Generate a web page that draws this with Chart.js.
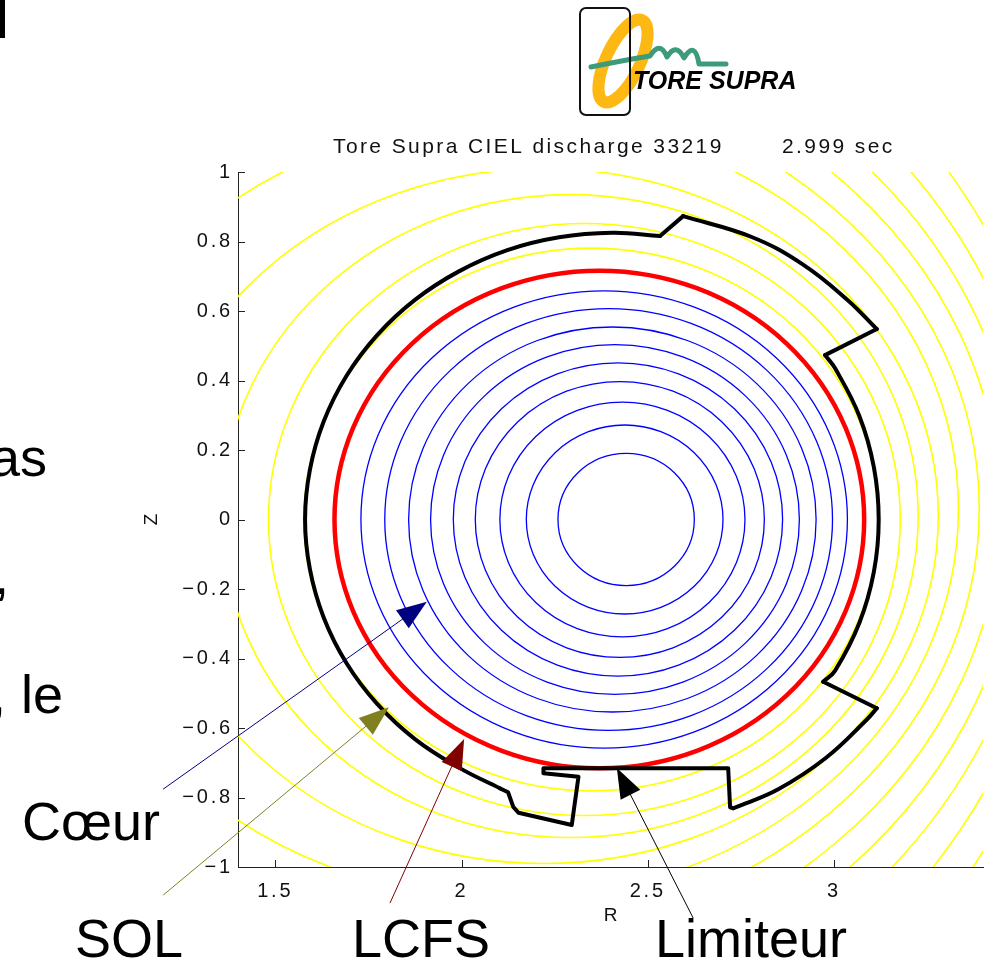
<!DOCTYPE html>
<html>
<head>
<meta charset="utf-8">
<script src="https://cdn.jsdelivr.net/npm/chart.js@4.4.0/dist/chart.umd.min.js"></script>
<style>
  html, body { margin: 0; padding: 0; background: #fff; }
  #plot { display: block; }
</style>
</head>
<body>
<canvas id="plot" width="993" height="960"></canvas>
<script>
// tick values
const rTicks = [1.5, 2, 2.5, 3];
const zTicks = [-1, -0.8, -0.6, -0.4, -0.2, 0, 0.2, 0.4, 0.6, 0.8, 1];

// first wall / limiter outline (R, Z in m)
const wallR = [2.595, 2.533, 2.405, 2.262, 2.123, 1.993, 1.875, 1.773, 1.691, 1.630, 1.593, 1.580,
  1.593, 1.630, 1.691, 1.773, 1.875, 1.993, 2.104, 2.125, 2.139, 2.153, 2.296, 2.314, 2.220, 2.220,
  2.716, 2.721, 2.730, 2.849, 2.977, 3.087, 3.115, 2.971, 3.003, 3.068, 3.107, 3.120, 3.107, 3.068,
  3.003, 2.976, 3.115, 3.034, 2.915, 2.779, 2.595];
const wallZ = [0.873, 0.816, 0.825, 0.812, 0.775, 0.714, 0.632, 0.530, 0.413, 0.282, 0.143, 0.000,
  -0.143, -0.282, -0.413, -0.530, -0.632, -0.714, -0.774, -0.785, -0.827, -0.844, -0.879, -0.740, -0.730, -0.716,
  -0.716, -0.828, -0.831, -0.777, -0.687, -0.577, -0.543, -0.467, -0.435, -0.298, -0.151, 0.000, 0.151, 0.298,
  0.435, 0.473, 0.548, 0.634, 0.735, 0.813, 0.873];
// index ranges of the wall that are curved (the rest are straight pieces)
const wallArcs = [[1, 18], [28, 32], [33, 41], [42, 46]];

// closed flux surfaces (blue): centre R, half width, half height
const coreR0 = [2.442, 2.438, 2.432, 2.425, 2.420, 2.412, 2.405, 2.395, 2.383];
const coreA  = [0.183, 0.264, 0.329, 0.388, 0.442, 0.495, 0.547, 0.601, 0.653];
const coreB  = [0.190, 0.272, 0.338, 0.397, 0.451, 0.503, 0.554, 0.607, 0.658];

// last closed flux surface (red)
const lcfsR0 = [2.370];
const lcfsA  = [0.711];
const lcfsB  = [0.716];

// open flux surfaces in the SOL (yellow)
const solR0 = [2.349, 2.330, 2.291, 2.221, 2.128, 2.018, 1.934, 1.839, 1.714, 1.534, 1.276];
const solZ0 = [0, 0, 0.01, 0.01, 0.03, 0.03, 0.03, 0.03, 0.03, 0.03, 0.03];
const solA  = [0.772, 0.848, 0.935, 1.059, 1.206, 1.372, 1.512, 1.661, 1.841, 2.076, 2.389];
const solB  = [0.781, 0.852, 0.925, 1.000, 1.123, 1.238, 1.360, 1.495, 1.657, 1.868, 2.150];

// annotation arrows (tail -> tip, in R/Z)
const noteText  = ['Cœur', 'SOL', 'LCFS', 'Limiteur'];
const noteColor = ['#000080', '#808020', '#800000', '#000000'];
const noteTailR = [1.199, 1.199, 1.808, 2.622];
const noteTailZ = [-0.776, -1.081, -1.104, -1.147];
const noteTipR  = [1.907, 1.805, 2.007, 2.417];
const noteTipZ  = [-0.237, -0.540, -0.632, -0.715];
const noteTextX = [22, 75, 352, 655];
const noteTextY = [840, 957, 957, 957];

const fmt = v => String(v).replace('-', '\u2212');

// split the wall into straight and curved pieces
const wallDatasets = [];
let last = 0;
wallArcs.forEach(([a, b]) => {
  if (a > last) wallDatasets.push({from: last, to: a, tension: 0});
  wallDatasets.push({from: a, to: b, tension: 0.4});
  last = b;
});
if (last < wallR.length - 1) wallDatasets.push({from: last, to: wallR.length - 1, tension: 0});

const datasets = wallDatasets.map(p => ({
  data: wallR.slice(p.from, p.to + 1).map((r, i) => ({x: r, y: wallZ[p.from + i]})),
  showLine: true,
  borderColor: '#000',
  borderWidth: 4,
  borderJoinStyle: 'round',
  borderCapStyle: 'round',
  pointRadius: 0,
  fill: false,
  tension: p.tension
}));

function ellipse(ctx, xs, ys, r0, z0, a, b) {
  const cx = xs.getPixelForValue(r0), cy = ys.getPixelForValue(z0);
  const rx = xs.getPixelForValue(r0 + a) - cx;
  const ry = cy - ys.getPixelForValue(z0 + b);
  ctx.beginPath();
  ctx.ellipse(cx, cy, rx, ry, 0, 0, Math.PI * 2);
  ctx.stroke();
}

function arrow(ctx, x1, y1, x2, y2, color) {
  const ang = Math.atan2(y2 - y1, x2 - x1);
  const len = 30, half = 11;
  ctx.strokeStyle = color;
  ctx.fillStyle = color;
  ctx.lineWidth = 1;
  ctx.beginPath();
  ctx.moveTo(x1, y1);
  ctx.lineTo(x2 - Math.cos(ang) * len * 0.8, y2 - Math.sin(ang) * len * 0.8);
  ctx.stroke();
  const bx = x2 - Math.cos(ang) * len, by = y2 - Math.sin(ang) * len;
  ctx.beginPath();
  ctx.moveTo(x2, y2);
  ctx.lineTo(bx - Math.sin(ang) * half, by + Math.cos(ang) * half);
  ctx.lineTo(bx + Math.sin(ang) * half, by - Math.cos(ang) * half);
  ctx.closePath();
  ctx.fill();
}

const fluxPlugin = {
  id: 'flux',
  beforeDraw(chart) {
    chart.ctx.letterSpacing = '2.8px';
  },
  beforeDatasetsDraw(chart) {
    const {ctx, chartArea: ca, scales: {x, y}} = chart;
    ctx.save();
    ctx.beginPath();
    ctx.rect(ca.left, ca.top, ca.right - ca.left, ca.bottom - ca.top);
    ctx.clip();
    ctx.strokeStyle = '#ffff00';
    ctx.lineWidth = 1.6;
    for (let i = 0; i < solR0.length; i++) ellipse(ctx, x, y, solR0[i], solZ0[i], solA[i], solB[i]);
    ctx.strokeStyle = '#0000ff';
    ctx.lineWidth = 1.3;
    for (let i = 0; i < coreR0.length; i++) ellipse(ctx, x, y, coreR0[i], 0, coreA[i], coreB[i]);
    ctx.strokeStyle = '#ff0000';
    ctx.lineWidth = 4.5;
    ellipse(ctx, x, y, lcfsR0[0], 0, lcfsA[0], lcfsB[0]);
    ctx.restore();
  }
};

const decorPlugin = {
  id: 'decor',
  afterDraw(chart) {
    const {ctx, chartArea: ca, scales: {x, y}} = chart;
    ctx.save();
    // inward tick marks
    ctx.strokeStyle = '#222';
    ctx.lineWidth = 1;
    ctx.beginPath();
    rTicks.forEach(v => { const p = Math.round(x.getPixelForValue(v)) + 0.5; ctx.moveTo(p, ca.bottom); ctx.lineTo(p, ca.bottom - 7); });
    zTicks.forEach(v => { const p = Math.round(y.getPixelForValue(v)) + 0.5; ctx.moveTo(ca.left, p); ctx.lineTo(ca.left + 7, p); });
    ctx.stroke();

    // axis titles and plot title
    ctx.fillStyle = '#111';
    ctx.letterSpacing = '0px';
    ctx.font = '19px "Liberation Sans"';
    ctx.textAlign = 'center';
    ctx.textBaseline = 'middle';
    ctx.fillText('R', (ca.left + ca.right) / 2, 916);
    ctx.save();
    ctx.translate(152, (ca.top + ca.bottom) / 2);
    ctx.rotate(-Math.PI / 2);
    ctx.fillText('Z', 0, 0);
    ctx.restore();
    ctx.textAlign = 'left';
    ctx.textBaseline = 'alphabetic';
    ctx.font = '21px "Liberation Sans"';
    ctx.letterSpacing = '2.4px';
    ctx.fillText('Tore Supra CIEL discharge 33219', 333, 153);
    ctx.fillText('2.999 sec', 782, 153);

    // arrows with labels
    for (let i = 0; i < noteText.length; i++) {
      arrow(ctx, x.getPixelForValue(noteTailR[i]), y.getPixelForValue(noteTailZ[i]),
        x.getPixelForValue(noteTipR[i]), y.getPixelForValue(noteTipZ[i]), noteColor[i]);
    }
    ctx.fillStyle = '#000';
    ctx.letterSpacing = '0px';
    ctx.font = '54px "Liberation Sans"';
    for (let i = 0; i < noteText.length; i++) ctx.fillText(noteText[i], noteTextX[i], noteTextY[i]);

    // slide text cut at the left edge
    ctx.textAlign = 'right';
    ctx.fillText('as', 47, 476);
    ctx.fillText(',', 9, 594);
    ctx.fillText(', le', 63, 713);
    ctx.fillRect(0, 0, 5, 38);

    // Tore Supra logo
    ctx.save();
    ctx.translate(623, 61);
    ctx.rotate(0.44);
    ctx.strokeStyle = '#fdb813';
    ctx.lineWidth = 12;
    ctx.beginPath();
    ctx.ellipse(0, 0, 17, 45, 0, 0, Math.PI * 2);
    ctx.stroke();
    ctx.restore();
    ctx.strokeStyle = '#3d9b7a';
    ctx.lineWidth = 5;
    ctx.lineJoin = 'round';
    ctx.lineCap = 'round';
    ctx.beginPath();
    ctx.moveTo(591, 67);
    ctx.quadraticCurveTo(625, 60, 650, 56);
    ctx.quadraticCurveTo(660, 40, 667, 57);
    ctx.quadraticCurveTo(676, 42, 684, 58);
    ctx.quadraticCurveTo(695, 40, 699, 64);
    ctx.lineTo(726, 64);
    ctx.stroke();
    ctx.strokeStyle = '#111';
    ctx.lineWidth = 2;
    ctx.beginPath();
    ctx.roundRect(580, 8, 50, 107, 6);
    ctx.stroke();
    ctx.textAlign = 'left';
    ctx.font = 'italic bold 25px "Liberation Sans"';
    ctx.fillText('TORE SUPRA', 633, 89);
    ctx.restore();
  }
};

new Chart(document.getElementById('plot'), {
  type: 'scatter',
  data: { datasets: datasets },
  options: {
    responsive: false,
    animation: false,
    layout: { padding: { top: 172, right: 10, left: 0, bottom: 0 } },
    plugins: { legend: { display: false }, tooltip: { enabled: false } },
    scales: {
      x: {
        type: 'linear', min: 1.4, max: 3.4,
        afterFit(s) { s.height = 93; },
        afterBuildTicks(s) { s.ticks = rTicks.map(v => ({value: v})); },
        grid: { drawOnChartArea: false, drawTicks: false },
        border: { display: true, color: '#222', width: 1 },
        ticks: { padding: 12, color: '#111', font: { family: 'Liberation Sans', size: 20 }, callback: fmt, maxRotation: 0, autoSkip: false }
      },
      y: {
        type: 'linear', min: -1, max: 1,
        afterFit(s) { s.width = 238; },
        afterBuildTicks(s) { s.ticks = zTicks.map(v => ({value: v})); },
        grid: { drawOnChartArea: false, drawTicks: false },
        border: { display: true, color: '#222', width: 1 },
        ticks: { padding: 5, color: '#111', font: { family: 'Liberation Sans', size: 20 }, callback: fmt, autoSkip: false }
      }
    }
  },
  plugins: [fluxPlugin, decorPlugin]
});
</script>
</body>
</html>
